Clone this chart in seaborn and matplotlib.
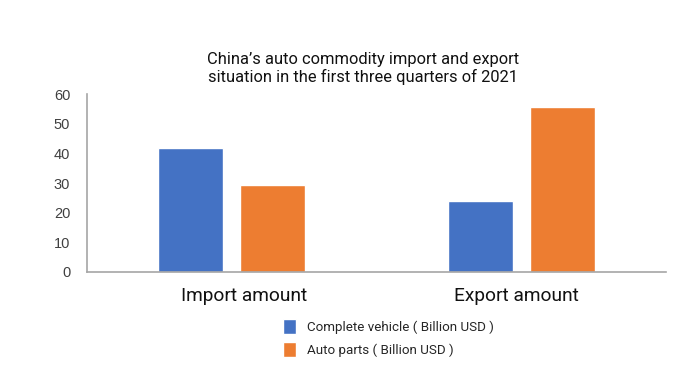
import pandas as pd
import matplotlib.pyplot as plt
import matplotlib.transforms as mtransforms
import seaborn as sns

# chart values
categories = ["Import amount", "Export amount"]
series_names = ["Complete vehicle ( Billion USD )", "Auto parts ( Billion USD )"]
complete_vehicle = [41.7, 23.9]
auto_parts = [29.2, 55.5]
y_ticks = [0, 10, 20, 30, 40, 50, 60]

df = pd.DataFrame({
    "Category": categories * 2,
    "Series": [series_names[0]] * 2 + [series_names[1]] * 2,
    "Value": complete_vehicle + auto_parts,
})

sns.set_style("white")
plt.rcParams["font.family"] = ["Roboto", "DejaVu Sans"]

fig = plt.figure(figsize=(7, 3.89), dpi=100)
ax = fig.add_axes([0.124, 0.301, 0.828, 0.457])

sns.barplot(data=df, x="Category", y="Value", hue="Series",
            palette=["#4472C4", "#ED7D31"], width=0.567, gap=0.207,
            saturation=1, errorbar=None, ax=ax)

ax.set_xlim(-0.5, 1.5)
ax.set_ylim(0, 60)
ax.set_yticks(y_ticks)
ax.set_yticklabels([str(t) for t in y_ticks], family="Liberation Sans",
                   fontsize=10.5, color="#404040")
ax.tick_params(axis="y", length=0, pad=12)
ax.tick_params(axis="x", length=0, labelsize=13.8, pad=11)
ax.set_xlabel("")
ax.set_ylabel("")

# the category labels sit a little off the bar-group centres in the original
shifts = [12, -5]
for lab, dx in zip(ax.get_xticklabels(), shifts):
    lab.set_color("#111111")
    lab.set_transform(lab.get_transform() +
                      mtransforms.ScaledTranslation(dx / 100, 0, fig.dpi_scale_trans))

for s in ["top", "right"]:
    ax.spines[s].set_visible(False)
for s in ["left", "bottom"]:
    ax.spines[s].set_color("#A6A6A6")
    ax.spines[s].set_linewidth(1.2)

fig.text(0.518, 0.825, "China\u2019s auto commodity import and export\nsituation in the first three quarters of 2021",
         ha="center", va="center", fontsize=11.9, linespacing=1.15, color="#111111")

handles, labels = ax.get_legend_handles_labels()
ax.legend(handles, labels, loc="upper left", bbox_to_anchor=(0.33, -0.235),
          frameon=False, fontsize=9.6, handlelength=0.95, handleheight=1.3,
          handletextpad=0.8, labelspacing=0.65, borderaxespad=0)

fig.savefig("out.png", dpi=100)
